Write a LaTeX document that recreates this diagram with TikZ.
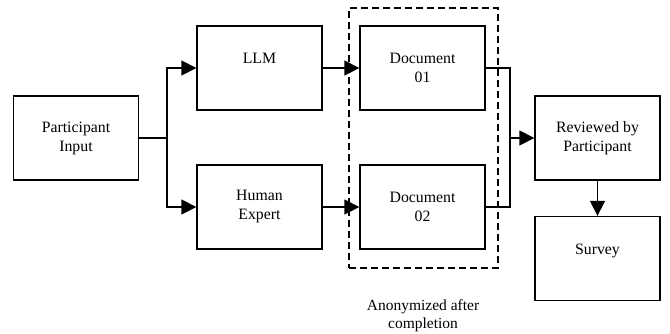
\documentclass[tikz,border=0pt]{standalone}
\usepackage{fontspec}
\setmainfont{Liberation Serif}
\usetikzlibrary{arrows.meta}
\begin{document}
\begin{tikzpicture}[x=1pt,y=-1pt,
  box/.style={draw,line width=1.3pt,minimum width=125pt,minimum height=84pt,align=center,inner sep=0pt,font=\fontsize{15.8}{19}\selectfont},
  conn/.style={line width=1.3pt},
  arr/.style={conn,-{Triangle[length=15pt,width=15pt]}},
  grp/.style={draw,line width=1.3pt,dash pattern=on 7pt off 4pt}]
\useasboundingbox (0,0) rectangle (670,333);
\node[box] (inp) at (76,138) {Participant\\Input};
\node[box] (llm) at (259.5,68) {LLM\\\mbox{}};
\node[box] (hum) at (259.5,207) {Human\\Expert};
\node[box] (doc1) at (422.5,68) {Document\\01};
\node[box] (doc2) at (422.5,207) {Document\\02};
\node[box] (rev) at (597.5,138) {Reviewed by\\Participant};
\node[box] (sur) at (597.5,258.5) {Survey\\\mbox{}};
\node[grp,minimum width=149pt,minimum height=260pt,inner sep=0pt] (anon) at (423.5,138) {};
\node[align=center,font=\fontsize{15.5}{18}\selectfont,inner sep=0pt] (anonlbl) at (423,316) {Anonymized after\\completion};
\coordinate (br) at (167,138);
\coordinate (mg) at (510,138);
\draw[conn] (inp.east) -- (br);
\draw[arr] (br) |- (llm.west);
\draw[arr] (br) |- (hum.west);
\draw[arr] (llm.east) -- (doc1.west);
\draw[arr] (hum.east) -- (doc2.west);
\draw[conn] (doc1.east) -| (mg) |- (doc2.east);
\draw[arr] (mg) -- (rev.west);
\draw[arr] (rev.south) -- (sur.north);
\end{tikzpicture}
\end{document}
